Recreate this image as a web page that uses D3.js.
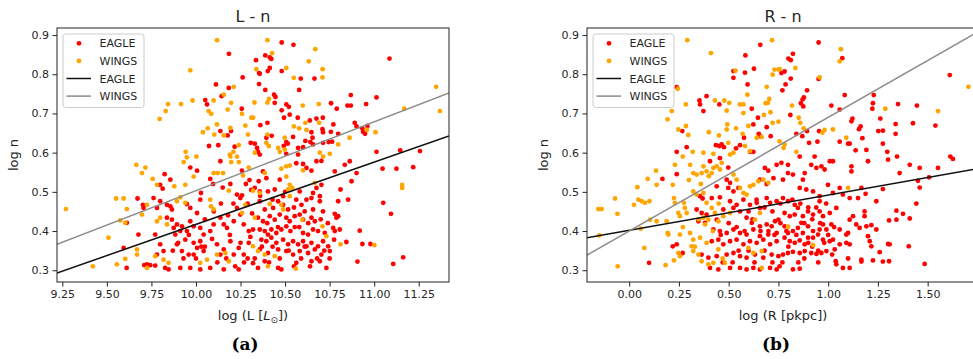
<!DOCTYPE html>
<html><head><meta charset="utf-8">
<script src="https://cdn.jsdelivr.net/npm/d3@7"></script>
<style>body{margin:0;background:#fff} svg{display:block} text{font-family:"DejaVu Sans",sans-serif}</style>
</head><body><svg id="c" width="973" height="359"></svg>
<script>
// ---------- DATA ----------
const titles = ["L - n", "R - n"];
const panelTags = ["(a)", "(b)"];
const seriesNames = ["EAGLE", "WINGS"];
const xTicksL = [9.25, 9.5, 9.75, 10.0, 10.25, 10.5, 10.75, 11.0, 11.25];
const xTicksR = [0.0, 0.25, 0.5, 0.75, 1.0, 1.25, 1.5];
const yTicks = [0.3, 0.4, 0.5, 0.6, 0.7, 0.8, 0.9];
const xDomainL = [9.22, 11.42];
const xDomainR = [-0.212, 1.758];
const yDomain = [0.270, 0.918];
// fitted lines: [slope, intercept]
const fitEagleL = [0.159, -1.173];
const fitWingsL = [0.1755, -1.252];
const fitEagleR = [0.0898, 0.402];
const fitWingsR = [0.29, 0.400];

const eagleL = [[10.185,0.852],[10.262,0.792],[10.112,0.774],[10.184,0.765],[10.144,0.744],[10.052,0.734],[10.062,0.723],[10.257,0.712],[10.137,0.655],[10.197,0.655],[10.178,0.644],[10.307,0.625],[10.125,0.619],[10.073,0.617],[10.217,0.615],
[10.481,0.881],[10.547,0.875],[10.389,0.848],[10.414,0.843],[10.423,0.839],[10.337,0.836],[11.086,0.840],[10.354,0.803],[10.358,0.801],[10.414,0.816],[10.403,0.808],[10.481,0.808],[10.588,0.789],[10.665,0.789],[10.354,0.775],[10.389,0.760],[10.579,0.760],[10.438,0.748],[10.446,0.742],[10.869,0.747],[11.013,0.741],[10.442,0.727],[10.507,0.723],[10.521,0.717],[10.758,0.726],[10.790,0.712],[10.850,0.720],[10.869,0.720],[10.955,0.724],[10.481,0.708],[10.526,0.697],[10.494,0.689],[10.571,0.689],[10.639,0.682],[10.676,0.687],[10.712,0.689],[10.361,0.670],[10.401,0.676],[10.771,0.672],[10.891,0.676],[10.901,0.667],[10.648,0.652],[10.654,0.638],[10.710,0.660],[10.713,0.652],[10.757,0.653],[10.933,0.662],[10.938,0.653],[10.949,0.648],[10.962,0.668],[10.798,0.648],[10.425,0.643],[10.395,0.638],[10.545,0.640],[10.507,0.627],[10.515,0.623],[10.614,0.630],[10.642,0.627],[10.713,0.625],[10.745,0.627],[10.764,0.628],[10.330,0.623],[10.343,0.612],[10.493,0.617],[10.573,0.612],[10.601,0.614],[10.657,0.621],[10.348,0.602],[10.358,0.595],[10.507,0.597],[11.013,0.602],[11.146,0.606],[11.257,0.604],[10.573,0.595],
[9.968,0.562],[10.006,0.554],[10.137,0.578],[9.824,0.545],[9.856,0.531],[9.799,0.518],[9.813,0.508],[10.080,0.533],[10.096,0.520],[10.258,0.554],[10.193,0.520],[10.150,0.511],[10.230,0.493],[10.249,0.484],[10.258,0.491],[9.672,0.483],[9.702,0.467],[9.706,0.459],[9.612,0.421],[9.762,0.484],[9.781,0.459],[9.799,0.476],[9.837,0.467],[9.856,0.463],[9.865,0.455],[9.949,0.469],[9.968,0.459],[10.006,0.446],[10.024,0.480],[10.028,0.497],[9.837,0.434],[9.865,0.429],[9.893,0.417],[9.921,0.412],[9.677,0.391],[9.771,0.391],[9.875,0.408],[9.884,0.391],[9.912,0.400],[9.968,0.425],[9.987,0.412],[9.949,0.400],[10.024,0.408],[10.043,0.391],[10.080,0.400],[10.099,0.417],[10.137,0.434],[10.156,0.417],[10.174,0.408],[10.212,0.425],[10.230,0.459],[10.249,0.442],[10.268,0.417],[10.296,0.400],[9.594,0.357],[9.725,0.315],[9.743,0.313],[9.771,0.312],[9.710,0.313],[9.827,0.306],[9.846,0.302],[9.781,0.340],[9.818,0.349],[9.799,0.366],[9.893,0.366],[9.921,0.349],[9.940,0.378],[9.959,0.340],[9.987,0.370],[10.006,0.357],[10.024,0.374],[10.043,0.349],[9.987,0.340],[9.912,0.306],[9.968,0.306],[10.024,0.302],[10.080,0.306],[10.118,0.366],[10.137,0.340],[10.156,0.353],[10.193,0.374],[10.212,0.340],[10.240,0.357],[10.268,0.340],[10.296,0.370],[10.156,0.302],[10.240,0.302],[9.611,0.306],
[10.300,0.530],[10.310,0.505],[10.290,0.470],[10.315,0.445],[10.305,0.385],[10.290,0.330],[10.320,0.318],[10.280,0.520],
[11.219,0.563],[11.125,0.559],[11.047,0.559],[11.051,0.472],[11.094,0.444],[10.919,0.401],[10.934,0.367],[10.979,0.367],[11.163,0.333],[11.107,0.316],[10.906,0.322],[10.901,0.548],[10.873,0.527],[10.811,0.506],[10.854,0.480],[10.798,0.476],[10.779,0.444],[10.788,0.434],[10.798,0.438],[10.770,0.408],[10.779,0.400],[10.807,0.404],[10.775,0.378],[10.844,0.372],[10.779,0.552],[10.835,0.569],[10.863,0.578],[10.676,0.578],[10.704,0.579],[10.601,0.571],[10.563,0.573],[10.620,0.561],[10.648,0.554],[10.376,0.552],[10.395,0.535],[10.470,0.531],[10.352,0.527],[10.330,0.510],[10.358,0.501],[10.676,0.510],[10.704,0.518],[10.657,0.497],[10.695,0.489],[10.442,0.506],[10.404,0.501],[10.489,0.489],[10.582,0.501],[10.563,0.480],[10.592,0.467],[10.620,0.480],[10.648,0.484],[10.695,0.476],[10.713,0.450],[10.657,0.455],[10.358,0.476],[10.386,0.455],[10.433,0.459],[10.461,0.476],[10.489,0.467],[10.517,0.455],
[10.348,0.434],[10.376,0.425],[10.414,0.438],[10.442,0.429],[10.470,0.442],[10.507,0.434],[10.526,0.425],[10.554,0.438],[10.582,0.442],[10.601,0.429],[10.648,0.434],[10.667,0.425],
[10.320,0.404],[10.358,0.404],[10.386,0.400],[10.404,0.391],[10.423,0.404],[10.451,0.395],[10.479,0.404],[10.507,0.412],[10.554,0.410],[10.601,0.395],[10.629,0.391],[10.657,0.404],[10.685,0.400],[10.723,0.395],
[10.367,0.378],[10.395,0.374],[10.423,0.383],[10.451,0.370],[10.489,0.378],[10.517,0.366],[10.545,0.374],[10.573,0.366],[10.601,0.374],[10.620,0.361],[10.648,0.370],[10.685,0.361],[10.713,0.374],[10.742,0.361],
[10.358,0.353],[10.404,0.344],[10.461,0.353],[10.507,0.349],[10.545,0.340],[10.582,0.349],[10.629,0.344],[10.667,0.353],[10.704,0.340],[10.751,0.349],
[10.348,0.306],[10.386,0.323],[10.461,0.306],[10.479,0.302],[10.563,0.319],[10.648,0.323],[10.695,0.323],[10.732,0.306],
[10.05,0.36],[10.09,0.38],[10.12,0.32],[10.17,0.33],[10.19,0.39],[10.22,0.31],[10.25,0.37],[10.27,0.32],[10.05,0.43],[10.10,0.45],[10.14,0.47],[10.18,0.44],[10.21,0.47],[10.33,0.33],[10.37,0.36],[10.41,0.32],[10.43,0.36],[10.47,0.33],[10.52,0.35],[10.55,0.31],[10.59,0.33],[10.61,0.36],[10.64,0.31],[10.68,0.33],[10.72,0.35],[10.75,0.33],[10.40,0.42],[10.46,0.41],[10.53,0.40],[10.58,0.41],[10.63,0.42],[10.70,0.43],[10.74,0.42],[10.43,0.48],[10.50,0.50],[10.55,0.46],[10.61,0.45],[10.36,0.49],[9.93,0.33],[9.90,0.37],[9.96,0.39],[9.87,0.35],[10.00,0.33],[10.03,0.36]];

const wingsL = [[10.118,0.887],[9.968,0.810],[10.212,0.768],[10.156,0.748],[9.981,0.733],[10.099,0.733],[10.197,0.727],[9.843,0.724],[9.916,0.724],[9.830,0.706],[10.071,0.706],[10.086,0.699],[10.178,0.710],[10.258,0.699],[9.796,0.686],[10.311,0.689],[10.118,0.672],[10.277,0.669],[10.066,0.662],[10.193,0.663],[10.039,0.652],[10.103,0.646],[10.156,0.644],[10.292,0.646],[10.240,0.619],[9.942,0.602],[10.210,0.602],[10.190,0.595],
[10.401,0.887],[10.670,0.864],[10.427,0.854],[10.633,0.833],[10.339,0.813],[10.507,0.816],[10.711,0.813],[10.710,0.792],[10.549,0.791],[11.348,0.768],[10.410,0.737],[10.401,0.728],[10.328,0.728],[10.599,0.720],[10.689,0.724],[11.369,0.706],[11.169,0.712],[10.320,0.689],[10.614,0.676],[10.691,0.676],[10.549,0.667],[10.579,0.662],[10.620,0.658],[10.959,0.658],[11.007,0.652],[10.401,0.646],[10.862,0.638],[10.498,0.638],[10.798,0.621],[10.395,0.625],[10.409,0.617],[10.461,0.612],[10.470,0.602],[10.498,0.608],[10.330,0.600],[10.695,0.600],[10.751,0.597],
[9.270,0.456],[9.665,0.569],[9.716,0.562],[9.697,0.548],[9.931,0.576],[9.949,0.588],[10.002,0.590],[9.987,0.539],[10.193,0.590],[10.230,0.590],[10.198,0.576],[10.240,0.576],[9.757,0.533],[9.781,0.518],[9.878,0.514],[9.940,0.518],[10.099,0.548],[10.122,0.548],[10.152,0.548],[10.264,0.542],[10.296,0.562],[10.184,0.503],[9.552,0.483],[9.594,0.483],[9.612,0.456],[9.725,0.467],[9.575,0.427],[9.603,0.421],[9.697,0.442],[9.893,0.476],[9.912,0.486],[9.940,0.472],[10.080,0.480],[10.084,0.463],[10.099,0.455],[9.781,0.425],[9.799,0.434],[9.837,0.417],[9.509,0.383],[9.669,0.353],[9.669,0.340],[9.556,0.315],[9.421,0.310],[9.603,0.329],[9.771,0.336],[9.818,0.327],[9.846,0.319],[10.024,0.319],[10.062,0.327],[10.118,0.340],[10.165,0.344],[10.184,0.323],[9.725,0.306],[10.258,0.446],[10.277,0.467],
[11.157,0.510],[11.157,0.518],[11.001,0.364],[10.811,0.366],[10.713,0.590],[10.507,0.565],[10.526,0.567],[10.601,0.555],[10.479,0.559],[10.386,0.548],[10.507,0.539],[10.526,0.518],[10.541,0.510],[10.517,0.506],[10.667,0.523],[10.358,0.497],[10.320,0.503],[10.414,0.469],[10.479,0.467],[10.526,0.489],[10.330,0.434],[10.489,0.455],[10.597,0.429],[10.710,0.412],[10.732,0.387],[10.320,0.361],[10.348,0.349],[10.386,0.340],[10.442,0.336],[10.560,0.304],[10.404,0.310]];

const eagleR = [[0.659,0.875],[0.584,0.848],[0.627,0.814],[0.524,0.808],[0.524,0.791],[0.582,0.804],[0.595,0.774],[0.239,0.767],[0.389,0.744],[0.353,0.733],[0.356,0.723],[0.453,0.723],[0.616,0.712],[0.373,0.706],[0.647,0.689],[0.691,0.665],[0.711,0.642],[0.624,0.672],[0.267,0.655],[0.577,0.638],[0.651,0.648],[0.657,0.642],[0.436,0.619],[0.465,0.621],[0.476,0.614],[0.453,0.617],[0.537,0.611],[0.557,0.619],[0.289,0.614],[0.239,0.602],[0.607,0.602],[0.624,0.602],
[0.952,0.881],[1.071,0.841],[0.823,0.852],[0.800,0.840],[0.812,0.836],[0.781,0.807],[0.765,0.803],[0.952,0.788],[0.812,0.789],[0.786,0.774],[0.770,0.759],[0.894,0.759],[1.611,0.798],[1.083,0.747],[1.229,0.747],[0.878,0.741],[0.872,0.736],[0.863,0.726],[0.875,0.718],[1.016,0.720],[1.225,0.726],[1.222,0.712],[1.351,0.724],[1.446,0.720],[1.058,0.710],[0.810,0.696],[1.122,0.687],[1.117,0.680],[1.262,0.687],[1.339,0.673],[1.426,0.675],[1.539,0.669],[1.163,0.667],[1.155,0.660],[1.252,0.655],[1.275,0.656],[1.339,0.648],[0.954,0.655],[0.894,0.655],[0.870,0.642],[0.840,0.648],[1.172,0.637],[1.058,0.628],[1.100,0.623],[1.108,0.623],[0.904,0.625],[0.946,0.628],[1.275,0.623],[1.138,0.606],[1.192,0.607],[1.297,0.602],
[0.167,0.533],[0.100,0.319],[0.219,0.361],[0.239,0.366],[0.269,0.344],[0.239,0.545],[0.406,0.578],[0.456,0.586],[0.498,0.562],[0.356,0.489],[0.369,0.483],[0.415,0.484],[0.456,0.486],[0.339,0.455],[0.364,0.446],[0.389,0.442],[0.348,0.425],[0.381,0.421],[0.440,0.429],[0.473,0.455],[0.498,0.510],[0.507,0.523],[0.490,0.531],[0.440,0.514],[0.524,0.501],[0.549,0.510],[0.657,0.531],[0.691,0.520],[0.725,0.535],[0.682,0.561],[0.699,0.554],[0.741,0.569],[0.507,0.476],[0.524,0.459],[0.540,0.467],[0.557,0.450],[0.574,0.480],[0.607,0.467],[0.641,0.472],[0.657,0.459],[0.691,0.484],[0.708,0.472],[0.741,0.476],[0.590,0.434],[0.616,0.421],[0.657,0.412],[0.691,0.417],[0.716,0.412],[0.733,0.425],[0.750,0.429],[0.423,0.404],[0.456,0.400],[0.490,0.395],[0.524,0.404],[0.557,0.395],[0.590,0.391],[0.624,0.404],[0.657,0.387],[0.699,0.391],[0.741,0.395],[0.415,0.374],[0.448,0.378],[0.473,0.366],[0.507,0.374],[0.540,0.378],[0.574,0.366],[0.607,0.374],[0.641,0.370],[0.674,0.378],[0.708,0.366],[0.741,0.374],[0.364,0.340],[0.398,0.332],[0.440,0.336],[0.490,0.340],[0.524,0.344],[0.557,0.336],[0.590,0.332],[0.632,0.340],[0.674,0.332],[0.716,0.340],[0.750,0.336],[0.406,0.306],[0.448,0.302],[0.507,0.306],[0.557,0.306],[0.590,0.302],[0.624,0.306],[0.657,0.302],[0.708,0.306],[0.741,0.302],
[1.200,0.578],[1.301,0.582],[1.346,0.590],[1.410,0.569],[1.460,0.561],[1.552,0.561],[1.614,0.590],[1.627,0.584],[1.359,0.548],[1.451,0.528],[1.507,0.537],[1.460,0.511],[1.275,0.507],[1.188,0.495],[1.443,0.470],[1.242,0.476],[1.343,0.452],[1.376,0.444],[1.410,0.432],[1.306,0.427],[1.343,0.429],[1.405,0.361],[1.485,0.316],[1.301,0.367],[1.309,0.366],[1.259,0.346],[1.275,0.322],[1.306,0.323],[1.225,0.325],[1.167,0.327],[1.167,0.322],[1.100,0.330],[1.108,0.306],[1.038,0.323],[1.041,0.315],[1.074,0.306],[0.823,0.302],[0.857,0.304],[0.756,0.310],[1.217,0.361],[1.209,0.374],[1.200,0.387],[1.242,0.404],[1.192,0.412],[1.217,0.415],[1.108,0.429],[1.125,0.438],[1.141,0.417],[1.158,0.408],[1.183,0.438],[1.183,0.450],[1.058,0.404],[1.091,0.391],[1.100,0.395],[1.091,0.370],[1.108,0.366],[1.058,0.366],[1.033,0.353],[0.991,0.349],[0.966,0.344],[0.941,0.342],[0.915,0.344],[0.882,0.349],[0.857,0.344],[0.823,0.347],[0.798,0.344],[0.773,0.340],[0.924,0.383],[0.949,0.391],[0.974,0.378],[1.008,0.374],[1.024,0.378],[0.781,0.383],[0.807,0.374],[0.832,0.370],[0.857,0.376],[0.882,0.366],[0.899,0.383],[0.781,0.412],[0.798,0.395],[0.823,0.400],[0.848,0.408],[0.865,0.421],[0.873,0.395],[0.899,0.412],[0.924,0.400],[0.957,0.404],[0.974,0.417],[0.991,0.404],[1.016,0.417],[0.781,0.446],[0.807,0.438],[0.832,0.442],[0.848,0.459],[0.873,0.438],[0.899,0.450],[0.924,0.442],[0.957,0.450],[0.974,0.438],[1.008,0.446],[1.041,0.459],[0.773,0.484],[0.798,0.476],[0.832,0.467],[0.857,0.510],[0.890,0.506],[0.924,0.501],[0.957,0.476],[0.957,0.489],[0.999,0.518],[1.024,0.497],[1.058,0.510],[1.074,0.493],[1.108,0.484],[1.150,0.484],[1.167,0.510],[0.773,0.531],[0.798,0.548],[0.823,0.544],[0.873,0.531],[0.882,0.548],[0.915,0.569],[0.941,0.561],[0.966,0.565],[0.982,0.557],[1.008,0.578],[1.024,0.578],[1.117,0.565],[1.117,0.552],[0.765,0.574],[0.798,0.569],[0.857,0.590],[0.932,0.590],
[0.47,0.32],[0.52,0.32],[0.55,0.35],[0.60,0.35],[0.63,0.32],[0.68,0.35],[0.72,0.32],[0.77,0.32],[0.80,0.36],[0.85,0.32],[0.88,0.33],[0.92,0.36],[0.95,0.32],[0.98,0.37],[1.02,0.34],[0.46,0.39],[0.50,0.42],[0.54,0.41],[0.58,0.40],[0.62,0.43],[0.66,0.40],[0.70,0.40],[0.73,0.39],[0.76,0.42],[0.79,0.40],[0.84,0.39],[0.88,0.42],[0.92,0.43],[0.96,0.42],[1.00,0.39],[1.03,0.41],[0.60,0.45],[0.64,0.48],[0.68,0.46],[0.72,0.45],[0.76,0.47],[0.82,0.48],[0.86,0.47],[0.90,0.46],[0.94,0.46],[0.99,0.47],[0.95,0.35],[0.90,0.37]];

const wingsR = [[0.292,0.887],[0.411,0.854],[0.718,0.887],[0.534,0.809],[0.730,0.812],[0.750,0.812],[0.721,0.799],[0.691,0.768],[0.244,0.763],[0.594,0.748],[0.431,0.733],[0.478,0.733],[0.285,0.723],[0.503,0.727],[0.557,0.723],[0.574,0.723],[0.704,0.737],[0.686,0.726],[0.697,0.727],[0.214,0.706],[0.193,0.685],[0.490,0.707],[0.574,0.701],[0.677,0.696],[0.710,0.703],[0.721,0.676],[0.750,0.679],[0.493,0.672],[0.490,0.659],[0.537,0.662],[0.599,0.668],[0.247,0.659],[0.285,0.668],[0.297,0.645],[0.400,0.652],[0.451,0.644],[0.570,0.648],[0.641,0.638],[0.666,0.640],[0.498,0.625],[0.582,0.617],[0.607,0.604],[0.319,0.602],[0.373,0.600],[0.423,0.597],[0.507,0.595],[0.524,0.600],
[1.064,0.864],[1.058,0.833],[0.835,0.816],[0.756,0.813],[0.957,0.792],[1.705,0.768],[0.818,0.720],[1.287,0.712],[1.552,0.706],[0.852,0.689],[0.860,0.676],[0.877,0.662],[1.024,0.659],[0.982,0.658],[0.971,0.651],[1.091,0.638],[0.840,0.602],[0.756,0.629],[0.781,0.621],[0.776,0.612],
[-0.155,0.456],[-0.138,0.456],[-0.059,0.444],[-0.071,0.483],[-0.150,0.389],[-0.058,0.310],[0.041,0.512],[0.093,0.533],[0.135,0.554],[0.138,0.518],[0.024,0.467],[0.046,0.480],[0.063,0.476],[0.079,0.472],[0.102,0.476],[0.058,0.406],[0.105,0.429],[0.138,0.425],[0.076,0.357],[0.183,0.313],[0.219,0.518],[0.225,0.484],[0.230,0.472],[0.188,0.425],[0.193,0.395],[0.197,0.391],[0.225,0.325],[0.247,0.344],[0.255,0.336],[0.247,0.446],[0.255,0.438],[0.280,0.459],[0.275,0.472],[0.230,0.569],[0.269,0.590],[0.306,0.569],[0.322,0.548],[0.339,0.544],[0.364,0.548],[0.373,0.565],[0.389,0.552],[0.415,0.548],[0.423,0.561],[0.440,0.565],[0.456,0.557],[0.465,0.574],[0.322,0.501],[0.339,0.493],[0.373,0.497],[0.389,0.472],[0.415,0.459],[0.431,0.446],[0.373,0.434],[0.398,0.429],[0.448,0.425],[0.473,0.438],[0.524,0.544],[0.540,0.531],[0.557,0.510],[0.574,0.497],[0.590,0.493],[0.607,0.514],[0.624,0.518],[0.649,0.527],[0.674,0.531],[0.699,0.523],[0.507,0.446],[0.657,0.446],[0.632,0.429],[0.306,0.395],[0.322,0.378],[0.356,0.383],[0.389,0.370],[0.314,0.361],[0.322,0.349],[0.348,0.340],[0.448,0.353],[0.599,0.357],[0.624,0.344],[0.666,0.349],[0.364,0.323],[0.398,0.315],[0.423,0.319],[0.481,0.319],[0.666,0.306],[0.255,0.391],[0.289,0.446],[0.381,0.417],
[0.924,0.364],[0.798,0.411],[1.100,0.510],
[0.33,0.36],[0.35,0.43],[0.42,0.40],[0.45,0.47],[0.40,0.54],[0.36,0.52],[0.30,0.53],[0.27,0.41],[0.47,0.33]];

// ---------- DRAWING ----------
const svg = d3.select('#c');
const RED = '#ff0000', ORANGE = '#ffa500', LBLACK = '#111111', LGRAY = '#8c8c8c';
const INK = '#262626';

function panel(o) {
  const g = svg.append('g');
  const x = d3.scaleLinear().domain(o.xDomain).range([o.left, o.left + 392]);
  const y = d3.scaleLinear().domain(yDomain).range([282, 28]);
  const clipId = 'clip' + o.id;
  svg.append('clipPath').attr('id', clipId).append('rect')
    .attr('x', o.left).attr('y', 28).attr('width', 392).attr('height', 254);
  const plot = g.append('g').attr('clip-path', `url(#${clipId})`);
  plot.append('g').selectAll('circle').data(o.eagle).join('circle')
    .attr('cx', d => x(d[0])).attr('cy', d => y(d[1])).attr('r', 2.4).attr('fill', RED);
  plot.append('g').selectAll('circle').data(o.wings).join('circle')
    .attr('cx', d => x(d[0])).attr('cy', d => y(d[1])).attr('r', 2.4).attr('fill', ORANGE);
  const line = d3.line().x(d => x(d[0])).y(d => y(d[1]));
  [[o.fitE, LBLACK], [o.fitW, LGRAY]].forEach(([f, c]) => {
    const pts = o.xDomain.map(v => [v, f[0] * v + f[1]]);
    plot.append('path').attr('d', line(pts)).attr('fill', 'none').attr('stroke', c).attr('stroke-width', 1.5);
  });
  // frame
  g.append('rect').attr('x', o.left).attr('y', 28).attr('width', 392).attr('height', 254)
    .attr('fill', 'none').attr('stroke', '#222').attr('stroke-width', 1);
  // axes
  const ax = g.append('g').attr('transform', 'translate(0,282)')
    .call(d3.axisBottom(x).tickValues(o.xTicks).tickFormat(d3.format('.2f')).tickSize(4.5).tickPadding(3.5));
  const ay = g.append('g').attr('transform', `translate(${o.left},0)`)
    .call(d3.axisLeft(y).tickValues(yTicks).tickFormat(d3.format('.1f')).tickSize(4.5).tickPadding(3.5));
  [ax, ay].forEach(a => {
    a.select('.domain').remove();
    a.selectAll('line').attr('stroke', '#222');
    a.selectAll('text').attr('fill', INK).style('font-size', '11px').style('font-family', '"DejaVu Sans", sans-serif');
  });
  // title
  g.append('text').attr('x', o.left + 196).attr('y', 21.5).attr('text-anchor', 'middle')
    .attr('fill', INK).style('font-size', '16px').text(o.title);
  // x label
  o.xlabel(g.append('text').attr('x', o.left + 196).attr('y', 320).attr('text-anchor', 'middle')
    .attr('fill', INK).style('font-size', '13px'));
  // y label
  g.append('text').attr('transform', `translate(${o.left - 39},155) rotate(-90)`).attr('text-anchor', 'middle')
    .attr('fill', INK).style('font-size', '13px').text('log n');
  // panel tag
  g.append('text').attr('x', o.tagX).attr('y', 350).attr('text-anchor', 'middle')
    .attr('fill', '#000').style('font-family', '"DejaVu Serif", serif').style('font-weight', 'bold')
    .style('font-size', '17px').text(o.tag);
  // legend
  const lg = g.append('g').attr('transform', `translate(${o.left + 6},6)`);
  lg.append('rect').attr('x', 0).attr('y', 28).attr('width', 81).attr('height', 73.5).attr('rx', 2.5)
    .attr('fill', 'rgba(255,255,255,0.8)').attr('stroke', '#cccccc').attr('stroke-width', 1);
  const rows = [
    {t: 'dot', c: RED, n: seriesNames[0]},
    {t: 'dot', c: ORANGE, n: seriesNames[1]},
    {t: 'line', c: LBLACK, n: seriesNames[0]},
    {t: 'line', c: LGRAY, n: seriesNames[1]}];
  rows.forEach((r, i) => {
    const cy = 37.3 + i * 17.6;
    if (r.t === 'dot') lg.append('circle').attr('cx', 16).attr('cy', cy).attr('r', 2.4).attr('fill', r.c);
    else lg.append('line').attr('x1', 3.5).attr('x2', 28).attr('y1', cy).attr('y2', cy).attr('stroke', r.c).attr('stroke-width', 1.5);
    lg.append('text').attr('x', 36.5).attr('y', cy + 4).attr('fill', INK).style('font-size', '11px').text(r.n);
  });
}

panel({id: 'L', left: 57, xDomain: xDomainL, xTicks: xTicksL, eagle: eagleL, wings: wingsL,
  fitE: fitEagleL, fitW: fitWingsL, title: titles[0], tag: panelTags[0], tagX: 245,
  xlabel: t => { t.append('tspan').text('log (L ['); t.append('tspan').style('font-style', 'italic').text('L');
    t.append('tspan').attr('dy', 3).style('font-size', '9px').text('⊙'); t.append('tspan').attr('dy', -3).text('])'); }});
panel({id: 'R', left: 587, xDomain: xDomainR, xTicks: xTicksR, eagle: eagleR, wings: wingsR,
  fitE: fitEagleR, fitW: fitWingsR, title: titles[1], tag: panelTags[1], tagX: 776,
  xlabel: t => t.text('log (R [pkpc])')});
</script></body></html>
